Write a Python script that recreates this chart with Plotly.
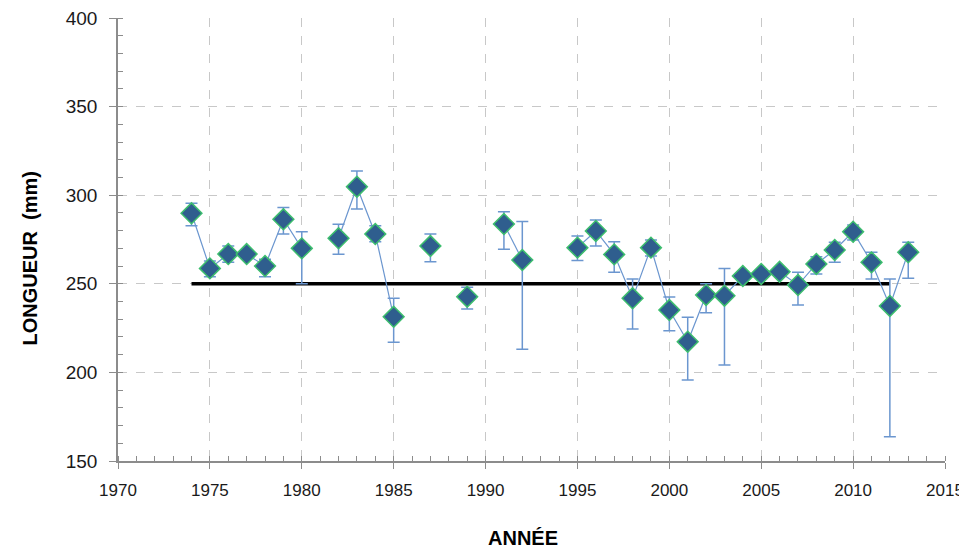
import plotly.graph_objects as go

years = list(range(1974, 2014))
# mean length (None = no data that year)
values = [289.8, 258.7, 266.8, 266.8, 260.0, 286.4, 270.0, None, 275.7, 304.8,
          278.1, 231.4, None, 271.3, None, 242.7, None, 283.7, 263.4, None,
          None, 270.4, 279.8, 266.6, 241.8, 270.4, 235.2, 217.3, 243.7, 243.3,
          254.4, 255.5, 256.8, 249.3, 261.2, 269.1, 279.4, 262.1, 237.5, 267.8]
upper = [295.4, 262.9, 271.3, 268.5, 263.8, 293.0, 279.4, None, 283.6, 313.7,
         282.8, 241.8, None, 278.1, None, 248.0, None, 290.7, 285.1, None,
         None, 277.0, 286.0, 273.8, 252.7, 274.7, 242.5, 231.1, 250.0, 258.7,
         256.5, 257.5, 258.8, 256.5, 265.3, 273.4, 283.2, 267.8, 252.7, 273.4]
lower = [282.8, 254.0, 262.1, 265.0, 254.0, 278.1, 250.0, None, 266.7, 292.2,
         273.8, 217.0, None, 262.5, None, 235.8, None, 269.5, 213.0, None,
         None, 263.1, 271.3, 256.5, 224.5, 265.7, 223.5, 195.7, 233.7, 204.2,
         252.4, 253.5, 254.8, 238.0, 255.5, 262.1, 274.7, 252.7, 163.7, 253.1]

ref_years = [1974, 2012]
ref_values = [250, 250]

x_ticks = [1970, 1975, 1980, 1985, 1990, 1995, 2000, 2005, 2010, 2015]
y_ticks = [150, 200, 250, 300, 350, 400]

err_plus = [None if v is None else u - v for v, u in zip(values, upper)]
err_minus = [None if v is None else v - l for v, l in zip(values, lower)]

line_blue = "#6B96CF"

fig = go.Figure()
fig.add_trace(go.Scatter(
    x=ref_years, y=ref_values, mode="lines",
    line=dict(color="black", width=3.5), showlegend=False, hoverinfo="skip"))
fig.add_trace(go.Scatter(
    x=years, y=values, mode="lines+markers", connectgaps=False,
    line=dict(color=line_blue, width=1.2),
    marker=dict(symbol="diamond", size=16, color="#2F5E8E",
                line=dict(color="#3DBE6E", width=1.5)),
    error_y=dict(type="data", symmetric=False, array=err_plus,
                 arrayminus=err_minus, color=line_blue, thickness=1.5, width=6),
    showlegend=False))

x_font = dict(family="Liberation Sans, Arial, sans-serif", size=17, color="#1a1a1a")
y_font = dict(family="Liberation Sans, Arial, sans-serif", size=19, color="#1a1a1a")
title_font = dict(family="Liberation Sans, Arial, sans-serif", size=20, color="black")

# page body has an 8px margin, so the figure is sized to fit the 967x552 window
fig.update_layout(
    width=959, height=544,
    margin=dict(l=110, r=22, t=10, b=91, autoexpand=False),
    paper_bgcolor="white", plot_bgcolor="white",
    xaxis=dict(
        range=[1970, 2015], tickvals=x_ticks, ticktext=[str(t) for t in x_ticks],
        showgrid=True, gridcolor="#C8C8C8", griddash="dash", gridwidth=1,
        showline=True, linecolor="#8C8C8C", linewidth=1.5,
        ticks="outside", ticklen=6, tickcolor="#8C8C8C",
        minor=dict(dtick=1, ticks="inside", ticklen=5, tickcolor="#8C8C8C", showgrid=False),
        tickfont=x_font, ticklabelstandoff=7, ticklabeloverflow="allow",
        zeroline=False, automargin=False),
    yaxis=dict(
        range=[150, 400], tickvals=y_ticks, ticktext=[str(t) for t in y_ticks],
        showgrid=True, gridcolor="#C8C8C8", griddash="dash", gridwidth=1,
        showline=True, linecolor="#8C8C8C", linewidth=1.5,
        ticks="outside", ticklen=7, tickcolor="#8C8C8C",
        minor=dict(dtick=10, ticks="inside", ticklen=5, tickcolor="#8C8C8C", showgrid=False),
        tickfont=y_font, ticklabelstandoff=8, ticklabeloverflow="allow",
        zeroline=False, automargin=False),
    annotations=[
        dict(text="<b>ANNÉE</b>", xref="paper", yref="paper", x=0.490, y=-0.1727,
             xanchor="center", yanchor="middle", showarrow=False, font=title_font),
        dict(text="<b>LONGUEUR  (mm)</b>", xref="paper", yref="paper", x=-0.1064, y=0.457,
             xanchor="center", yanchor="middle", showarrow=False, textangle=-90,
             font=title_font),
    ],
)

fig.write_html("out.html")
